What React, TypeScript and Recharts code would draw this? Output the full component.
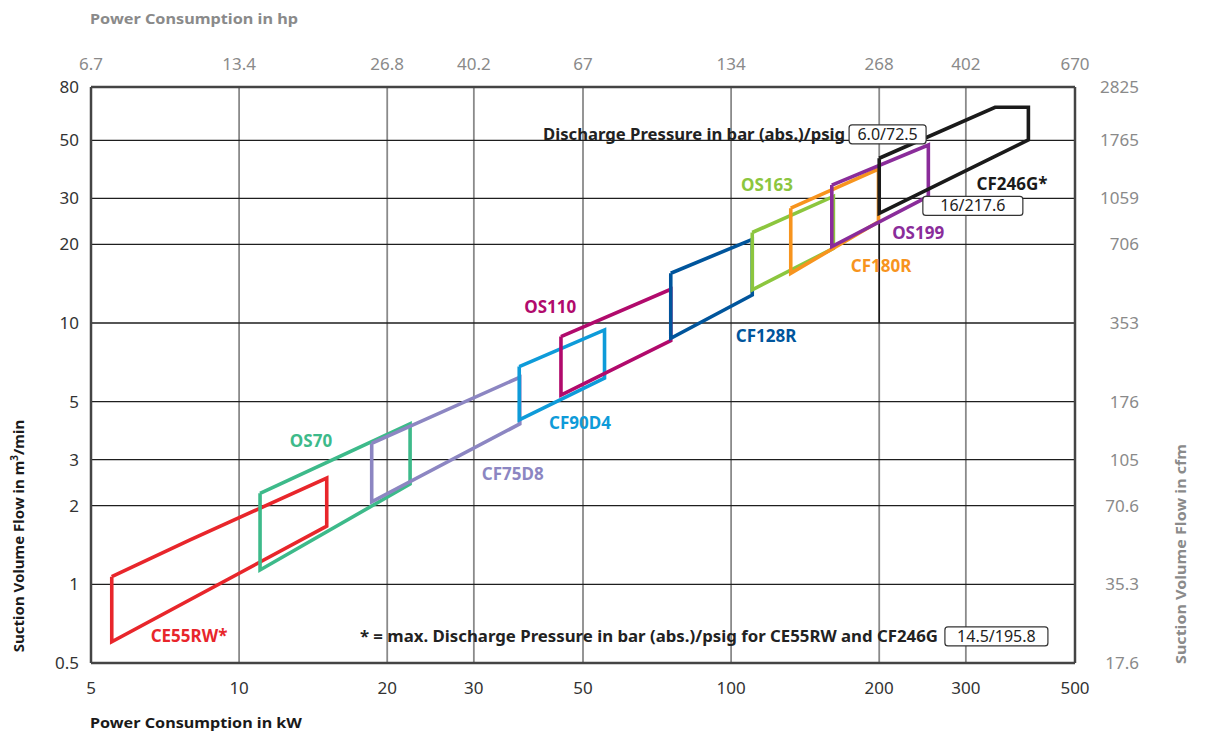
import { LineChart, Line, XAxis, YAxis, CartesianGrid, ReferenceDot } from 'recharts';

const FONT = '"Noto Sans", "Open Sans", sans-serif';

// axes (kW / m3/min are the data axes, hp / cfm are just relabelled copies)
const kwTicks = [5, 10, 20, 30, 50, 100, 200, 300, 500];
const hpLabels = ['6.7', '13.4', '26.8', '40.2', '67', '134', '268', '402', '670'];
const flowTicks = [0.5, 1, 2, 3, 5, 10, 20, 30, 50, 80];
const cfmLabels = ['17.6', '35.3', '70.6', '105', '176', '353', '706', '1059', '1765', '2825'];

// operating envelopes, [kW, m3/min], closed polygons
const ce55rw = [[5.51, 1.07], [7.95, 1.48], [15.07, 2.55], [15.07, 1.67], [5.51, 0.603], [5.51, 1.07]];
const os70 = [[11.03, 2.23], [22.26, 4.11], [22.26, 2.42], [11.03, 1.135], [11.03, 2.23]];
const cf75d8 = [[18.6, 3.46], [37.2, 6.2], [37.2, 4.11], [18.6, 2.07], [18.6, 3.46]];
const cf90d4 = [[37.1, 6.81], [55.3, 9.41], [55.3, 6.15], [37.1, 4.26], [37.1, 6.81]];
const os110 = [[45.1, 8.87], [75.4, 13.46], [75.4, 8.56], [45.1, 5.3], [45.1, 8.87]];
const cf128r = [[75.4, 15.5], [110.4, 20.9], [110.4, 12.8], [75.4, 8.74], [75.4, 15.5]];
const os163 = [[110.4, 22.2], [161.4, 30.5], [161.4, 19.3], [110.4, 13.4], [110.4, 22.2]];
const cf180r = [[132.2, 27.5], [199.3, 38.8], [199.3, 24.4], [132.2, 15.5], [132.2, 27.5]];
const os199 = [[160.2, 33.7], [251.7, 48], [251.7, 30.5], [160.2, 19.6], [160.2, 33.7]];
const cf246g = [[200, 42.7], [344, 66.9], [402, 66.9], [402, 50.2], [200, 26.3], [200, 42.7]];
const cf246gDrop = [[200, 26.3], [200, 10]];

// label anchors [kW, m3/min]
const labelCE55RW = [7.91, 0.634];
const labelOS70 = [14.0, 3.54];
const labelCF75D8 = [36.0, 2.64];
const labelCF90D4 = [49.3, 4.14];
const labelOS110 = [42.9, 11.52];
const labelCF128R = [117.8, 8.92];
const labelOS163 = [118.3, 33.7];
const labelCF180R = [201.7, 16.5];
const labelOS199 = [240, 22.1];
const labelCF246G = [372.5, 34.1];

const pressureTopAt = [173.7, 52.7];
const pressureLowAt = [310, 28.05];
const footnoteAt = [272, 0.632];

const toPts = (a: number[][]) => a.map(([kw, flow]) => ({ kw, flow }));

const series = [
  { name: 'CE55RW*', color: '#e8262b', data: ce55rw, at: labelCE55RW },
  { name: 'OS70', color: '#3dba8a', data: os70, at: labelOS70 },
  { name: 'CF75D8', color: '#8c86c2', data: cf75d8, at: labelCF75D8 },
  { name: 'CF90D4', color: '#0e9bd9', data: cf90d4, at: labelCF90D4 },
  { name: 'OS110', color: '#b10a6c', data: os110, at: labelOS110 },
  { name: 'CF128R', color: '#00559c', data: cf128r, at: labelCF128R },
  { name: 'OS163', color: '#8cc63e', data: os163, at: labelOS163 },
  { name: 'CF180R', color: '#f7941e', data: cf180r, at: labelCF180R },
  { name: 'OS199', color: '#8a2c9a', data: os199, at: labelOS199 },
  { name: 'CF246G*', color: '#1a1a1a', data: cf246g, at: labelCF246G },
];

const Tag = ({ cx, cy, text, w }: any) => (
  <g>
    <rect x={cx} y={cy - 9.5} width={w} height={19} rx={3} fill="#fff" stroke="#333" strokeWidth={1.2} />
    <text x={cx + w / 2} y={cy + 5.5} textAnchor="middle" fontSize={16} fill="#222" fontFamily={FONT}>
      {text}
    </text>
  </g>
);

export default function App() {
  return (
    <div style={{ position: 'absolute', left: 0, top: 0, width: 1205, height: 734, background: '#fff' }}>
      <LineChart width={1205} height={734} margin={{ top: 0, right: 0, bottom: 0, left: 0 }}>
        <CartesianGrid horizontal={false} stroke="#8a8a8a" strokeWidth={1.8} />
        <CartesianGrid vertical={false} stroke="#1e1e1e" strokeWidth={1.3} />
        <XAxis
          dataKey="kw"
          type="number"
          scale="log"
          domain={[5, 500]}
          ticks={kwTicks}
          interval={0}
          allowDataOverflow
          height={71}
          tickLine={false}
          tickSize={0}
          tickMargin={0}
          axisLine={{ stroke: '#444', strokeWidth: 2.5 }}
          tick={(p: any) => (
            <text x={p.x} y={p.y + 31} textAnchor="middle" fontSize={17} fill="#333" fontFamily={FONT}>
              {p.payload.value}
            </text>
          )}
        />
        <XAxis
          xAxisId="hp"
          orientation="top"
          type="number"
          scale="log"
          domain={[5, 500]}
          ticks={kwTicks}
          allowDataOverflow
          height={87}
          tickLine={false}
          tick={false}
          axisLine={{ stroke: '#444', strokeWidth: 2.5 }}
        />
        <YAxis
          type="number"
          scale="log"
          domain={[0.5, 80]}
          ticks={flowTicks}
          interval={0}
          allowDataOverflow
          width={91}
          tickLine={false}
          tickSize={0}
          tickMargin={0}
          axisLine={{ stroke: '#444', strokeWidth: 2.5 }}
          tick={(p: any) => (
            <text x={p.x - 12} y={p.y + 6} textAnchor="end" fontSize={17} fill="#333" fontFamily={FONT}>
              {p.payload.value}
            </text>
          )}
        />
        <YAxis
          yAxisId="cfm"
          orientation="right"
          type="number"
          scale="log"
          domain={[0.5, 80]}
          ticks={flowTicks}
          interval={0}
          allowDataOverflow
          width={130}
          tickLine={false}
          tickSize={0}
          tickMargin={0}
          axisLine={{ stroke: '#444', strokeWidth: 2.5 }}
          tick={(p: any) => (
            <text x={p.x + 64} y={p.y + 6} textAnchor="end" fontSize={17} fill="#8a8a8a" fontFamily={FONT}>
              {cfmLabels[p.index]}
            </text>
          )}
        />
        <Line
          data={toPts(cf246gDrop)}
          dataKey="flow"
          stroke="#1a1a1a"
          strokeWidth={1.6}
          dot={false}
          activeDot={false}
          isAnimationActive={false}
        />
        {series.map((s) => (
          <Line
            key={s.name}
            data={toPts(s.data)}
            dataKey="flow"
            type="linear"
            stroke={s.color}
            strokeWidth={3.6}
            strokeLinejoin="miter"
            dot={false}
            activeDot={false}
            isAnimationActive={false}
          />
        ))}
        {/* hp labels along the top edge, one per kW tick */}
        {kwTicks.map((t, i) => (
          <ReferenceDot
            key={'hp' + t}
            x={t}
            y={80}
            r={0}
            ifOverflow="visible"
            shape={(p: any) => (
              <text x={p.cx} y={p.cy - 17} textAnchor="middle" fontSize={17} fill="#8a8a8a" fontFamily={FONT}>
                {hpLabels[i]}
              </text>
            )}
          />
        ))}
        {series.map((s) => (
          <ReferenceDot
            key={'l' + s.name}
            x={s.at[0]}
            y={s.at[1]}
            r={0}
            shape={(p: any) => (
              <text x={p.cx} y={p.cy + 6} textAnchor="middle" fontSize={17} fontWeight="bold" fill={s.color} fontFamily={FONT}>
                {s.name}
              </text>
            )}
          />
        ))}
        <ReferenceDot
          x={pressureTopAt[0]}
          y={pressureTopAt[1]}
          r={0}
          shape={(p: any) => (
            <g>
              <text x={p.cx - 4} y={p.cy + 6} textAnchor="end" fontSize={16} fontWeight="bold" fill="#222" fontFamily={FONT} textLength={302} lengthAdjust="spacingAndGlyphs">
                Discharge Pressure in bar (abs.)/psig
              </text>
              <Tag cx={p.cx} cy={p.cy} w={77} text="6.0/72.5" />
            </g>
          )}
        />
        <ReferenceDot
          x={pressureLowAt[0]}
          y={pressureLowAt[1]}
          r={0}
          shape={(p: any) => <Tag cx={p.cx - 50} cy={p.cy} w={100} text="16/217.6" />}
        />
        <ReferenceDot
          x={footnoteAt[0]}
          y={footnoteAt[1]}
          r={0}
          shape={(p: any) => (
            <g>
              <text x={p.cx - 7} y={p.cy + 6} textAnchor="end" fontSize={16} fontWeight="bold" fill="#222" fontFamily={FONT} textLength={578} lengthAdjust="spacingAndGlyphs">
                * = max. Discharge Pressure in bar (abs.)/psig for CE55RW and CF246G
              </text>
              <Tag cx={p.cx} cy={p.cy} w={103} text="14.5/195.8" />
            </g>
          )}
        />
      </LineChart>
      <svg width={1205} height={734} style={{ position: 'absolute', left: 0, top: 0, pointerEvents: 'none' }} fontFamily={FONT}>
        <text x={90} y={24} fontSize={15} fontWeight="bold" fill="#8a8a8a" textLength={208} lengthAdjust="spacingAndGlyphs">
          Power Consumption in hp
        </text>
        <text x={90} y={728} fontSize={15} fontWeight="bold" fill="#1a1a1a" textLength={212} lengthAdjust="spacingAndGlyphs">
          Power Consumption in kW
        </text>
        <text transform="translate(24,536) rotate(-90)" textAnchor="middle" fontSize={15} fontWeight="bold" fill="#1a1a1a">
          Suction Volume Flow in m<tspan dy={-6} fontSize={10}>3</tspan>
          <tspan dy={6}>/min</tspan>
        </text>
        <text transform="translate(1186,554) rotate(-90)" textAnchor="middle" fontSize={15} fontWeight="bold" fill="#8a8a8a" textLength={220} lengthAdjust="spacingAndGlyphs">
          Suction Volume Flow in cfm
        </text>
      </svg>
    </div>
  );
}
